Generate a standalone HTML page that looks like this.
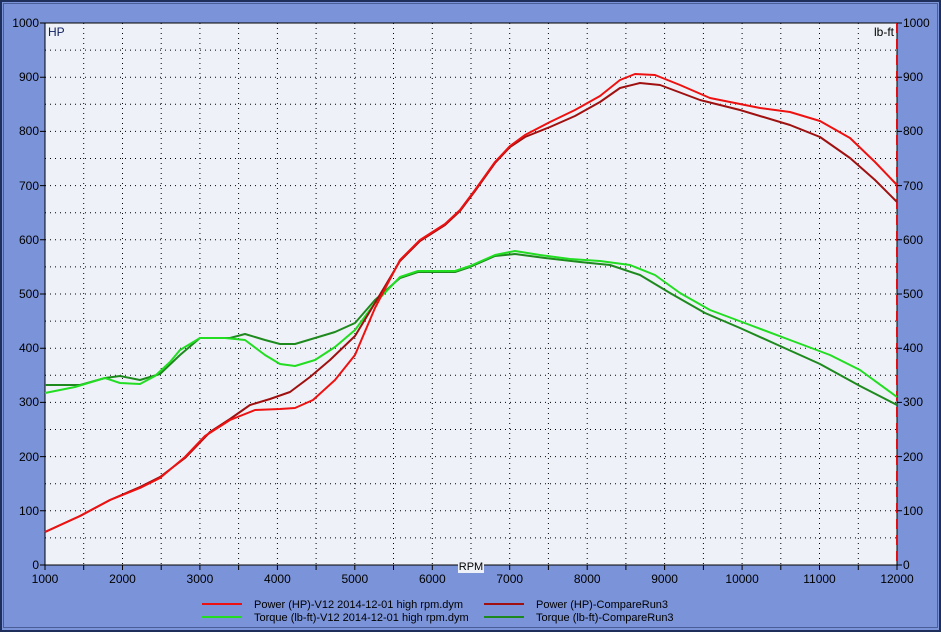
<!DOCTYPE html>
<html><head><meta charset="utf-8"><style>
html,body{margin:0;padding:0;background:#7b93d8;}
svg{display:block;font-family:"Liberation Sans",sans-serif;}
</style></head><body>
<svg width="941" height="632" viewBox="0 0 941 632" xmlns="http://www.w3.org/2000/svg">
<rect x="0" y="0" width="941" height="632" fill="#7b93d8"/>
<rect x="1" y="1" width="939" height="630" fill="none" stroke="#1d2f5a" stroke-width="2"/>
<rect x="3.5" y="3.5" width="934" height="624" fill="none" stroke="#4a5f9a" stroke-width="1"/>
<rect x="45" y="23" width="852" height="542" fill="#eef2f8" stroke="#000" stroke-width="1"/>
<g stroke="#000" stroke-width="1" stroke-dasharray="1,4" fill="none">
<path d="M83.7 23V565M122.5 23V565M161.2 23V565M199.9 23V565M238.6 23V565M277.4 23V565M316.1 23V565M354.8 23V565M393.5 23V565M432.3 23V565M471 23V565M509.7 23V565M548.4 23V565M587.2 23V565M625.9 23V565M664.6 23V565M703.4 23V565M742.1 23V565M780.8 23V565M819.5 23V565M858.3 23V565"/>
<path d="M45 50.1H897M45 77.2H897M45 104.3H897M45 131.4H897M45 158.5H897M45 185.6H897M45 212.7H897M45 239.8H897M45 266.9H897M45 294H897M45 321.1H897M45 348.2H897M45 375.3H897M45 402.4H897M45 429.5H897M45 456.6H897M45 483.7H897M45 510.8H897M45 537.9H897"/>
</g>
<line x1="897" y1="23" x2="897" y2="565" stroke="#e01010" stroke-width="2" stroke-dasharray="10,6"/>
<g stroke="#000" stroke-width="1">
<path d="M40 23H45M40 77.2H45M40 131.4H45M40 185.6H45M40 239.8H45M40 294H45M40 348.2H45M40 402.4H45M40 456.6H45M40 510.8H45M40 565H45"/>
<path d="M897 23H902M897 77.2H902M897 131.4H902M897 185.6H902M897 239.8H902M897 294H902M897 348.2H902M897 402.4H902M897 456.6H902M897 510.8H902M897 565H902"/>
<path d="M45 565V570M83.7 565V570M122.5 565V570M161.2 565V570M199.9 565V570M238.6 565V570M277.4 565V570M316.1 565V570M354.8 565V570M393.5 565V570M432.3 565V570M471 565V570M509.7 565V570M548.4 565V570M587.2 565V570M625.9 565V570M664.6 565V570M703.4 565V570M742.1 565V570M780.8 565V570M819.5 565V570M858.3 565V570M897 565V570"/>
</g>
<g font-size="12" fill="#000" text-anchor="end">
<text x="39" y="27">1000</text><text x="39" y="81">900</text><text x="39" y="135">800</text><text x="39" y="190">700</text><text x="39" y="244">600</text><text x="39" y="298">500</text><text x="39" y="352">400</text><text x="39" y="406">300</text><text x="39" y="461">200</text><text x="39" y="515">100</text><text x="39" y="569">0</text>
</g>
<g font-size="12" fill="#000">
<text x="903" y="27">1000</text><text x="903" y="81">900</text><text x="903" y="135">800</text><text x="903" y="190">700</text><text x="903" y="244">600</text><text x="903" y="298">500</text><text x="903" y="352">400</text><text x="903" y="406">300</text><text x="903" y="461">200</text><text x="903" y="515">100</text><text x="903" y="569">0</text>
</g>
<g font-size="12" fill="#000" text-anchor="middle">
<text x="45" y="583">1000</text><text x="122.5" y="583">2000</text><text x="199.9" y="583">3000</text><text x="277.4" y="583">4000</text><text x="354.8" y="583">5000</text><text x="432.3" y="583">6000</text><text x="509.7" y="583">7000</text><text x="587.2" y="583">8000</text><text x="664.6" y="583">9000</text><text x="742.1" y="583">10000</text><text x="819.5" y="583">11000</text><text x="897" y="583">12000</text>
</g>
<text x="48" y="36" font-size="12" fill="#102060">HP</text>
<text x="894" y="36" font-size="12" fill="#000" text-anchor="end">lb-ft</text>
<rect x="458" y="560" width="26" height="13" fill="#eef2f8"/>
<text x="471" y="570" font-size="11" fill="#000" text-anchor="middle">RPM</text>
<g fill="none" stroke-width="2" stroke-linejoin="round">
<polyline stroke="#1e8a1e" points="45,385 80,385 105,378 120,376 140,380 160,374 180,355 200,338 230,338 245,334 265,340 280,344 295,344 315,338 335,332 355,323 375,300 400,278 418,272 455,272 470,267 495,256 515,254 545,258 580,262 610,265 640,275 670,293 705,313 740,328 780,346 820,364 860,386 897,405"/>
<polyline stroke="#22dd22" points="45,393 75,387 105,378 120,383 140,384 155,376 170,362 180,350 200,338 225,338 245,340 265,355 280,364 295,366 315,360 335,347 355,330 375,303 400,277 418,271 455,271 470,266 495,255 515,251 540,255 570,259 600,261 630,265 655,275 680,293 710,310 750,325 790,340 830,355 860,370 897,397"/>
<polyline stroke="#a01010" points="45,532 80,516 110,500 140,487 160,477 185,458 210,432 230,419 250,405 270,399 290,392 310,377 330,360 355,336 375,303 400,261 420,241 445,225 460,211 475,191 495,163 510,147 525,137 550,127 575,116 600,102 620,88 640,83 660,85 700,100 740,110 790,125 820,137 850,158 875,180 897,202"/>
<polyline stroke="#ee1111" points="45,532 80,516 110,500 140,488 160,478 185,457 205,436 230,420 255,410 280,409 295,408 313,400 335,380 355,355 375,308 400,260 420,240 445,224 460,210 475,190 495,162 510,146 525,135 550,122 575,110 600,96 620,80 635,74 655,75 680,85 710,98 740,104 760,108 790,112 820,121 850,138 875,162 897,185"/>
</g>
<g stroke-width="2">
<line x1="202" y1="604" x2="242" y2="604" stroke="#ee1111"/>
<line x1="202" y1="617" x2="242" y2="617" stroke="#22dd22"/>
<line x1="484" y1="604" x2="524" y2="604" stroke="#a01010"/>
<line x1="484" y1="617" x2="524" y2="617" stroke="#1e8a1e"/>
</g>
<g font-size="11" fill="#000">
<text x="254" y="608">Power (HP)-V12 2014-12-01 high rpm.dym</text>
<text x="254" y="621">Torque (lb-ft)-V12 2014-12-01 high rpm.dym</text>
<text x="536" y="608">Power (HP)-CompareRun3</text>
<text x="536" y="621">Torque (lb-ft)-CompareRun3</text>
</g>
</svg>
</body></html>
